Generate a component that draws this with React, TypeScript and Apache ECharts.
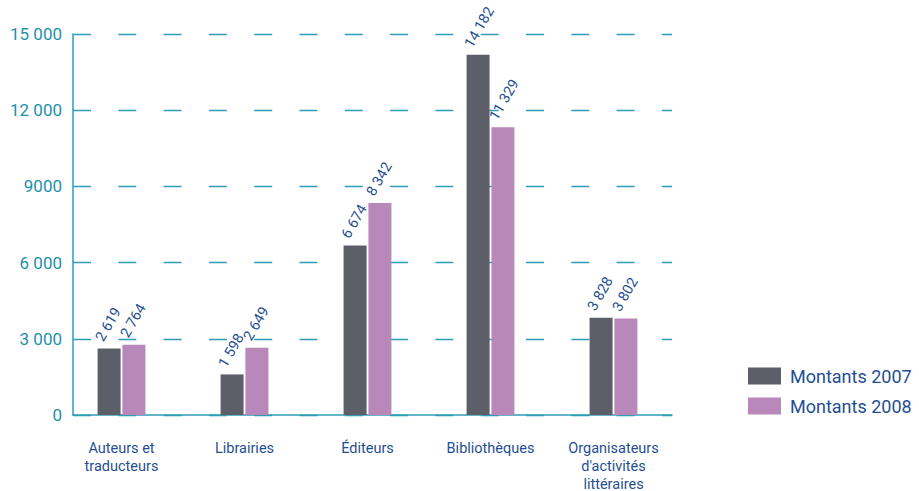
import React, { useEffect, useRef } from "react";
import * as echarts from "echarts";

const categories = [
  "Auteurs et\ntraducteurs",
  "Librairies",
  "Éditeurs",
  "Bibliothèques",
  "Organisateurs\nd'activités\nlittéraires",
];
const seriesNames = ["Montants 2007", "Montants 2008"];
const values2007 = [2619, 1598, 6674, 14182, 3828];
const values2008 = [2764, 2649, 8342, 11329, 3802];
const yTickLabels = ["0", "3 000", "6 000", "9000", "12 000", "15 000"];

const fmt = (v: number) => String(v).replace(/\B(?=(\d{3})+(?!\d))/g, " ");

export default function App() {
  const ref = useRef<HTMLDivElement>(null);
  useEffect(() => {
    document.body.style.margin = "0";
    const chart = echarts.init(ref.current!, null, { renderer: "svg" });
    const font = "Roboto";
    const navy = "#1f4f93";
    const teal = "#2f9db6";
    const label = {
      show: true,
      position: "top",
      distance: 5,
      rotate: 60,
      align: "left",
      verticalAlign: "middle",
      offset: [-2, -10],
      color: navy,
      fontFamily: font,
      fontSize: 14.5,
      formatter: (p: any) => fmt(p.value),
    };
    chart.setOption({
      animation: false,
      textStyle: { fontFamily: font },
      grid: [
        { left: 60, right: 244, top: 34, bottom: 76, outerBoundsMode: "none", containLabel: false },
        { left: 73, right: 247, top: 34, bottom: 76, outerBoundsMode: "none", containLabel: false },
      ],
      legend: {
        orient: "vertical",
        left: 743,
        top: 362,
        itemWidth: 33,
        itemHeight: 17,
        itemGap: 12,
        icon: "rect",
        textStyle: { color: navy, fontSize: 18, fontFamily: font, padding: [0, 0, 0, 4] },
        data: seriesNames,
      },
      xAxis: [
        {
          type: "category",
          gridIndex: 0,
          data: categories,
          axisLine: { show: false },
          axisTick: { show: false },
          axisLabel: {
            margin: 24,
            color: navy,
            fontSize: 14.5,
            lineHeight: 18,
            fontFamily: font,
          },
        },
        {
          type: "value",
          gridIndex: 1,
          min: 0,
          max: 1,
          axisLine: { show: true, lineStyle: { color: teal, width: 1.5 } },
          axisTick: { show: false },
          axisLabel: { show: false },
          splitLine: { show: false },
        },
      ],
      yAxis: [
        {
          type: "value",
          gridIndex: 0,
          min: 0,
          max: 15000,
          interval: 3000,
          show: false,
          splitLine: { show: false },
        },
        {
          type: "value",
          gridIndex: 1,
          min: 0,
          max: 15000,
          interval: 3000,
          axisLine: { show: true, lineStyle: { color: teal, width: 1.5 } },
          axisTick: { show: false },
          axisLabel: {
            margin: 11,
            color: "#1e8fab",
            fontSize: 17,
            fontFamily: font,
            formatter: (v: number) => yTickLabels[Math.round(v / 3000)],
          },
          splitLine: {
            show: true,
            lineStyle: { color: teal, width: 1.3, type: [18, 27.3], dashOffset: 0 },
          },
        },
      ],
      series: [
        {
          name: seriesNames[0],
          type: "bar",
          xAxisIndex: 0,
          yAxisIndex: 0,
          data: values2007,
          barWidth: 23,
          barGap: "8%",
          itemStyle: { color: "#5c5f67" },
          label,
        },
        {
          name: seriesNames[1],
          type: "bar",
          xAxisIndex: 0,
          yAxisIndex: 0,
          data: values2008,
          barWidth: 23,
          barGap: "8%",
          itemStyle: { color: "#b888ba" },
          label,
        },
      ],
    });
    return () => chart.dispose();
  }, []);
  return (
    <div
      ref={ref}
      style={{ position: "absolute", left: 0, top: 0, width: 919, height: 491 }}
    />
  );
}
